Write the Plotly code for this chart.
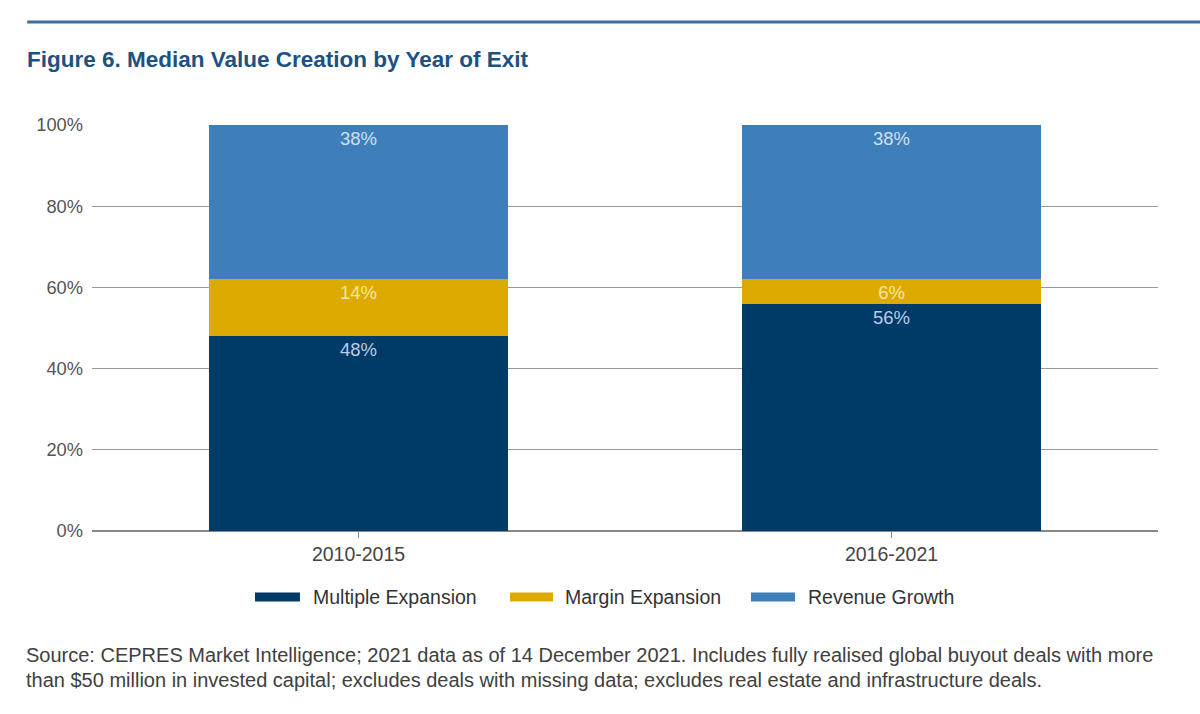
import plotly.graph_objects as go

categories = ["2010-2015", "2016-2021"]
multiple_expansion = [48, 56]
margin_expansion = [14, 6]
revenue_growth = [38, 38]
series_names = ["Multiple Expansion", "Margin Expansion", "Revenue Growth"]
colors = ["#003a66", "#dcaa00", "#3d7ebb"]
text_colors = ["#b9cde3", "#f6e3a6", "#cfe0f0"]
y_ticks = [0, 20, 40, 60, 80, 100]
y_tick_labels = ["0%", "20%", "40%", "60%", "80%", "100%"]

FONT = "Liberation Sans, Arial, sans-serif"

fig = go.Figure()
for name, vals, col, tcol in zip(series_names,
                                 [multiple_expansion, margin_expansion, revenue_growth],
                                 colors, text_colors):
    fig.add_trace(go.Bar(
        x=categories, y=vals, name=name, marker=dict(color=col, line=dict(width=0)),
        text=[f"{v}%" for v in vals], textposition="inside", insidetextanchor="end",
        textfont=dict(color=tcol, size=18.5, family=FONT), showlegend=False,
        constraintext="none", cliponaxis=False,
    ))

# manual legend (wide swatches like the reference)
legend_x = [(0.1529, 0.1951, 0.2073), (0.3921, 0.4325, 0.4437), (0.6182, 0.6595, 0.6717)]
shapes = [dict(type="line", xref="paper", yref="paper",
               x0=-0.0608, x1=1.04, y0=1.2537, y1=1.2537,
               line=dict(color="#3f6f99", width=3))]
annotations = []
for name, col, (sx0, sx1, tx) in zip(series_names, colors, legend_x):
    shapes.append(dict(type="rect", xref="paper", yref="paper",
                       x0=sx0, x1=sx1, y0=-0.1736, y1=-0.1515,
                       fillcolor=col, line=dict(width=0)))
    annotations.append(dict(text=name, xref="paper", yref="paper", x=tx, y=-0.1626,
                            xanchor="left", yanchor="middle", showarrow=False,
                            xshift=-2, font=dict(size=19.5, color="#333333", family=FONT)))

annotations += [
    dict(text="<b>Figure 6. Median Value Creation by Year of Exit</b>",
         xref="paper", yref="paper", x=-0.063, y=1.1625, xanchor="left", yanchor="middle",
         showarrow=False, font=dict(size=22.5, color="#1c5182", family=FONT)),
    dict(text="Source: CEPRES Market Intelligence; 2021 data as of 14 December 2021. Includes fully realised global buyout deals with more",
         xref="paper", yref="paper", x=-0.0636, y=-0.305, xanchor="left", yanchor="middle",
         align="left", showarrow=False,
         font=dict(size=20, color="#404040", family=FONT)),
    dict(text="than $50 million in invested capital; excludes deals with missing data; excludes real estate and infrastructure deals.",
         xref="paper", yref="paper", x=-0.0636, y=-0.3665, xanchor="left", yanchor="middle",
         align="left", showarrow=False,
         font=dict(size=20, color="#404040", family=FONT)),
]

fig.update_layout(
    width=1200, height=714,
    barmode="stack", bargap=0.44,
    plot_bgcolor="white", paper_bgcolor="white",
    margin=dict(l=92, r=42, t=125, b=183),
    showlegend=False,
    font=dict(family=FONT, color="#444444", size=18),
    xaxis=dict(showgrid=False, ticks="outside", ticklen=6, tickcolor="#888888",
               tickfont=dict(size=19.5, color="#444444"), showline=False),
    yaxis=dict(range=[0, 100], tickvals=y_ticks, ticktext=y_tick_labels,
               showgrid=True, gridcolor="#9a9a9a", gridwidth=1.3,
               zeroline=True, zerolinecolor="#888888", zerolinewidth=2,
               tickfont=dict(size=18.3, color="#555555"), ticklabelstandoff=8),
    shapes=shapes,
    annotations=annotations,
)

fig.write_html("out.html", config={"displayModeBar": False},
               post_script="document.body.style.margin='0px';document.body.style.overflow='hidden';")
